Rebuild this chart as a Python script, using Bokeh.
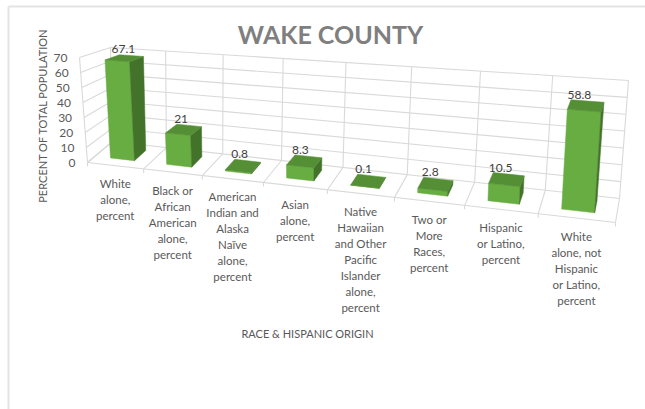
from bokeh.core.properties import value
from bokeh.embed import file_html
from bokeh.plotting import figure
from bokeh.resources import INLINE

# Chart content
title_text = "WAKE COUNTY"
x_title = "RACE & HISPANIC ORIGIN"
y_title = "PERCENT OF TOTAL POPULATION"
categories = [
    "White\nalone,\npercent",
    "Black or\nAfrican\nAmerican\nalone,\npercent",
    "American\nIndian and\nAlaska\nNaïve\nalone,\npercent",
    "Asian\nalone,\npercent",
    "Native\nHawaiian\nand Other\nPacific\nIslander\nalone,\npercent",
    "Two or\nMore\nRaces,\npercent",
    "Hispanic\nor Latino,\npercent",
    "White\nalone, not\nHispanic\nor Latino,\npercent",
]
values = [67.1, 21, 0.8, 8.3, 0.1, 2.8, 10.5, 58.8]
value_labels = ["67.1", "21", "0.8", "8.3", "0.1", "2.8", "10.5", "58.8"]
y_ticks = [0, 10, 20, 30, 40, 50, 60, 70]
y_max = 70

# Screen positions of the 3D plot box corners: (depth, height) -> left and right
BOX = {
    ("front", "low"): ((87, 162), (615, 222)),
    ("back", "low"): ((112, 141), (619, 198)),
    ("front", "high"): ((79, 57), (623, 100)),
    ("back", "high"): ((110, 47), (628, 80)),
}
PERSPECTIVE = 1.2
BAR_U = 0.054
BAR_V = (0.30, 0.78)

GRID = "#d9d9d9"
TEXT = "#595959"
FRONT = "#68ad41"
SIDE = "#43732a"
TOP = "#548f35"
FONT = "Lato"


def project(u, v, h):
    """Map category position u, depth v and height h (all 0-1) to page pixels."""
    t = u / (PERSPECTIVE - (PERSPECTIVE - 1) * u)

    def mix(a, b, k):
        return (a[0] + (b[0] - a[0]) * k, a[1] + (b[1] - a[1]) * k)

    fl = mix(*BOX[("front", "low")], t)
    bl = mix(*BOX[("back", "low")], t)
    fh = mix(*BOX[("front", "high")], t)
    bh = mix(*BOX[("back", "high")], t)
    return mix(mix(fl, bl, v), mix(fh, bh, v), h)


p = figure(
    width=645, height=409, x_range=(0, 645), y_range=(409, 0),
    output_backend="svg", toolbar_location=None, min_border=0,
    background_fill_color="white", border_fill_color="white",
    outline_line_color=None,
)
p.axis.visible = False
p.grid.visible = False

# Frame of the chart area: top and left edges only
p.line([8, 645], [6, 6], line_color="#e4e4e4", line_width=2)
p.line([8, 8], [6, 409], line_color="#e4e4e4", line_width=2)


def grid_line(a, b, width=1.1):
    p.line([a[0], b[0]], [a[1], b[1]], line_color=GRID, line_width=width)


n = len(categories)
for tick in y_ticks:
    h = tick / y_max
    grid_line(project(0, 0, h), project(0, 1, h))
    grid_line(project(0, 1, h), project(1, 1, h))
for i in range(n + 1):
    u = i / n
    grid_line(project(u, 1, 0), project(u, 1, 1))
    grid_line(project(u, 0, 0), project(u, 1, 0))
    a = project(u, 0, 0)
    grid_line(a, (a[0], a[1] + 4))
grid_line(project(0, 0, 0), project(1, 0, 0))
grid_line(project(0, 0, 0), project(0, 0, 1))


def face(corners, color):
    p.patch([c[0] for c in corners], [c[1] for c in corners],
            fill_color=color, line_color=color, line_width=0.5)


v1, v2 = BAR_V
for i, val in enumerate(values):
    c = (i + 0.5) / n
    u1, u2 = c - BAR_U / 2, c + BAR_U / 2
    h = val / y_max
    face([project(u1, v1, 0), project(u2, v1, 0), project(u2, v1, h), project(u1, v1, h)], FRONT)
    face([project(u2, v1, 0), project(u2, v2, 0), project(u2, v2, h), project(u2, v1, h)], SIDE)
    face([project(u1, v1, h), project(u2, v1, h), project(u2, v2, h), project(u1, v2, h)], TOP)


def label(x, y, text, size, color=TEXT, align="center", baseline="middle", angle=0, style="normal"):
    p.text(x=[x], y=[y], text=[text], text_font=value(FONT),
           text_font_size=size, text_color=color, text_align=align,
           text_baseline=baseline, angle=angle, text_font_style=style)


# Value labels sit just above the back edge of each bar top
for i, (val, txt) in enumerate(zip(values, value_labels)):
    c = (i + 0.5) / n
    x, y = project(c, v2, val / y_max)
    label(x - 8, y - 6.5, txt, "12px", color="#404040")

# Value axis tick labels follow the front edge of the left wall
for tick in y_ticks:
    x, y = project(0, 0, tick / y_max)
    label(x - 12, y, str(tick), "12px", align="right")

# Category labels, one text per line, hang below the front edge of the floor
for i, cat in enumerate(categories):
    x, y = project((i + 0.5) / n, 0, 0)
    for j, line in enumerate(cat.split("\n")):
        label(x, y + 18 + j * 16, line, "11.5px")

label(330, 33, title_text, "25px", color="#7f7f7f", style="bold")
label(307, 333, x_title, "11px")
label(42, 115, y_title, "11px", angle=1.5708)

open("out.html", "w").write(file_html(p, INLINE))
